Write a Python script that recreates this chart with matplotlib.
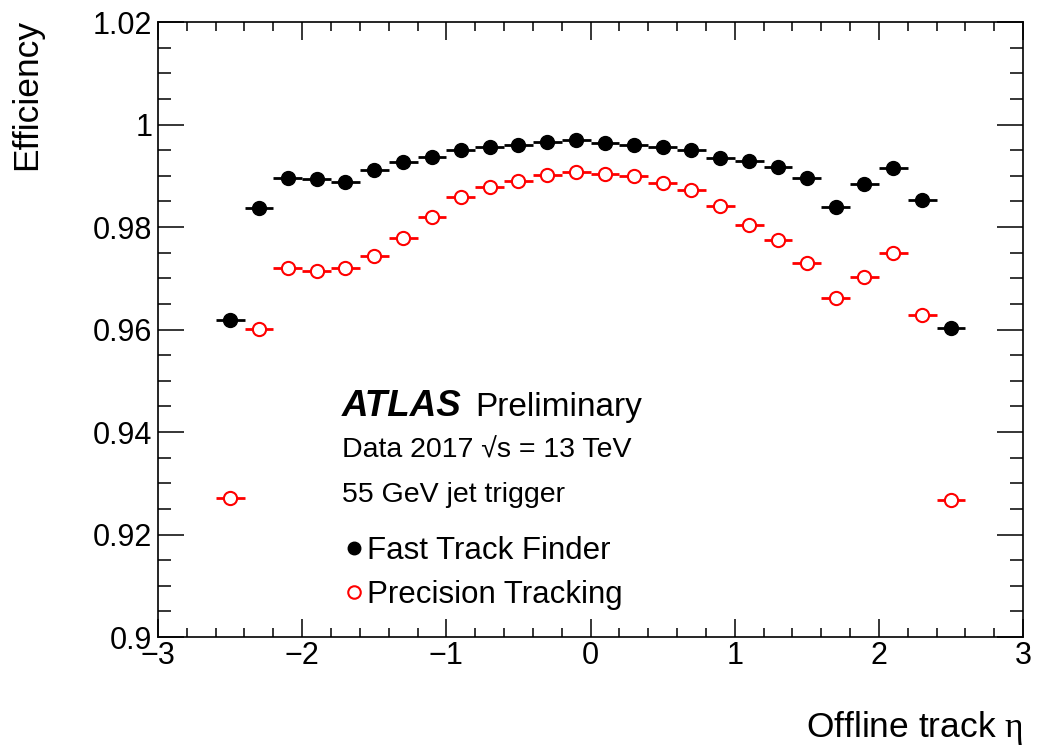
"""
Eficiencia del trigger de trazas (FTF vs Precision Tracking) en funcion de eta.
"""

import matplotlib
matplotlib.use("Agg")
import matplotlib.pyplot as plt
from matplotlib.lines import Line2D
from matplotlib.ticker import MultipleLocator, FuncFormatter

plt.rcParams["font.family"] = ["Liberation Sans", "DejaVu Sans"]
plt.rcParams["mathtext.fontset"] = "custom"
plt.rcParams["mathtext.rm"] = "Liberation Serif"
plt.rcParams["mathtext.it"] = "Liberation Serif:italic"

# centros de los bins en eta
eta = [-2.5, -2.3, -2.1, -1.9, -1.7, -1.5, -1.3, -1.1, -0.9, -0.7, -0.5, -0.3, -0.1,
       0.1, 0.3, 0.5, 0.7, 0.9, 1.1, 1.3, 1.5, 1.7, 1.9, 2.1, 2.3, 2.5]
half_bin = 0.1

eff_ftf = [0.9619, 0.9837, 0.9896, 0.9894, 0.9888, 0.9911, 0.9927, 0.9937, 0.9950,
           0.9956, 0.9960, 0.9966, 0.9970, 0.9964, 0.9960, 0.9956, 0.9950, 0.9935,
           0.9929, 0.9917, 0.9896, 0.9839, 0.9884, 0.9915, 0.9853, 0.9603]

eff_prec = [0.9271, 0.9601, 0.9720, 0.9714, 0.9720, 0.9743, 0.9779, 0.9820, 0.9859,
            0.9878, 0.9890, 0.9901, 0.9907, 0.9903, 0.9900, 0.9886, 0.9872, 0.9841,
            0.9804, 0.9775, 0.9730, 0.9661, 0.9702, 0.9749, 0.9628, 0.9267]

labels = ["Fast Track Finder", "Precision Tracking"]

fig = plt.figure(figsize=(10.38, 7.49), dpi=100)
ax = fig.add_axes([158 / 1038, 112 / 749, 865 / 1038, 615 / 749])

ax.errorbar(eta, eff_ftf, xerr=half_bin, fmt="o", color="black", ms=10,
            elinewidth=2, capsize=0, zorder=3)
ax.errorbar(eta, eff_prec, xerr=half_bin, fmt="o", color="red", mfc="white",
            mec="red", mew=1.5, ms=9.5, elinewidth=2, capsize=0, zorder=3)

ax.set_xlim(-3, 3)
ax.set_ylim(0.9, 1.02)

ax.xaxis.set_major_locator(MultipleLocator(1))
ax.xaxis.set_minor_locator(MultipleLocator(0.2))
ax.yaxis.set_major_locator(MultipleLocator(0.02))
ax.yaxis.set_minor_locator(MultipleLocator(0.005))

fmt = FuncFormatter(lambda v, p: ("%g" % round(v, 4)).replace("-", "\u2212"))
ax.xaxis.set_major_formatter(fmt)
ax.yaxis.set_major_formatter(fmt)

ax.tick_params(which="both", direction="in", top=True, right=True, width=1.1)
ax.tick_params(axis="x", which="major", length=13, pad=3, labelsize=22)
ax.tick_params(axis="x", which="minor", length=6.5)
ax.tick_params(axis="y", which="major", length=19, pad=4, labelsize=22)
ax.tick_params(axis="y", which="minor", length=9.5)
for sp in ax.spines.values():
    sp.set_linewidth(1.2)

ax.set_xlabel(r"Offline track $\mathrm{\eta}$", fontsize=25.5, ha="right", va="baseline")
ax.xaxis.set_label_coords(1.0, -0.163)
ax.set_ylabel("Efficiency", fontsize=25.5, loc="top", va="center")
ax.yaxis.set_label_coords(-0.152, 1.005)

# etiquetas ATLAS
ax.text(0.2127, 0.359, "ATLAS", transform=ax.transAxes, fontsize=26.5,
        fontweight="bold", fontstyle="italic", va="baseline")
ax.text(0.3665, 0.359, "Preliminary", transform=ax.transAxes, fontsize=24,
        va="baseline")
ax.text(0.2127, 0.291, "Data 2017 \u221as = 13 TeV", transform=ax.transAxes,
        fontsize=20.5, va="baseline")
ax.text(0.2127, 0.220, "55 GeV jet trigger", transform=ax.transAxes,
        fontsize=20.5, va="baseline")

handles = [
    Line2D([], [], ls="none", marker="o", color="black", ms=9),
    Line2D([], [], ls="none", marker="o", color="red", mfc="white", mew=1.5, ms=9),
]
ax.legend(handles, labels, loc="upper left", bbox_to_anchor=(0.2177, 0.165),
          frameon=False, fontsize=22.5, handlelength=0.5, handletextpad=0.175,
          borderpad=0, borderaxespad=0, labelspacing=0.46)

fig.savefig("out.png", dpi=100)
